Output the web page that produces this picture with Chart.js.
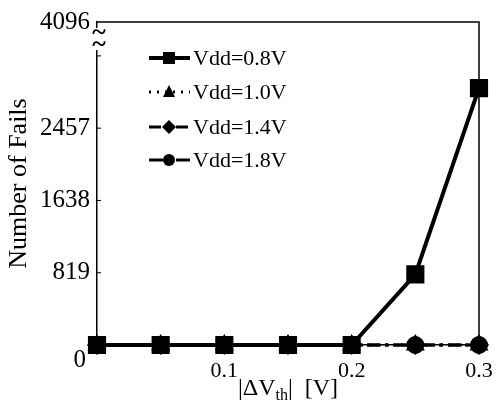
<!DOCTYPE html>
<html>
<head>
<meta charset="utf-8">
<script src="https://cdn.jsdelivr.net/npm/chart.js@4/dist/chart.umd.min.js"></script>
<style>
  body { margin: 0; background: #fff; }
  canvas { display: block; }
</style>
</head>
<body>
<canvas id="fails" width="497" height="407"></canvas>
<script>
// data
const dvth = [0, 0.05, 0.1, 0.15, 0.2, 0.25, 0.3];
const vdd08 = [0, 0, 0, 0, 0, 800, 2910];
const vdd10 = [0, 0, 0, 0, 0, 0, 0];
const vdd14 = [0, 0, 0, 0, 0, 0, 0];
const vdd18 = [0, 0, 0, 0, 0, 0, 0];
const seriesNames = ["Vdd=0.8V", "Vdd=1.0V", "Vdd=1.4V", "Vdd=1.8V"];

const xTicks = [0.1, 0.2, 0.3];
const xTickLabels = ["0.1", "0.2", "0.3"];
// axis is broken above 3276, top label reads 4096
const yTicks = [0, 819, 1638, 2457, 3276, 3660];
const yTickLabels = ["", "819", "1638", "2457", "", "4096"];
const yMax = 3660;

const serif = '"Liberation Serif", "Times New Roman", serif';

function pts(ys) {
  return ys.map((y, i) => ({ x: dvth[i], y: y }));
}

// little marker drawer for the legend
function marker(ctx, style, x, y) {
  ctx.beginPath();
  if (style === "rect") {
    ctx.rect(x - 6, y - 6, 12, 12);
  } else if (style === "triangle") {
    ctx.moveTo(x, y - 7);
    ctx.lineTo(x + 6, y + 5);
    ctx.lineTo(x - 6, y + 5);
    ctx.closePath();
  } else if (style === "rectRot") {
    ctx.moveTo(x, y - 7);
    ctx.lineTo(x + 7, y);
    ctx.lineTo(x, y + 7);
    ctx.lineTo(x - 7, y);
    ctx.closePath();
  } else {
    ctx.arc(x, y, 6, 0, Math.PI * 2);
  }
  ctx.fill();
}

const extras = {
  id: "extras",
  afterDraw(chart) {
    const ctx = chart.ctx;
    const a = chart.chartArea;
    const ys = chart.scales.y;
    ctx.save();
    ctx.strokeStyle = "#000";
    ctx.fillStyle = "#000";

    // top and right frame
    ctx.lineWidth = 1.5;
    ctx.beginPath();
    ctx.moveTo(a.left, a.top);
    ctx.lineTo(a.right, a.top);
    ctx.lineTo(a.right, a.bottom);
    ctx.stroke();

    // inward y ticks
    ctx.lineWidth = 1;
    yTicks.forEach((v) => {
      if (v === 0 || v === yMax) return;
      const py = ys.getPixelForValue(v);
      ctx.beginPath();
      ctx.moveTo(a.left, py);
      ctx.lineTo(a.left + 4, py);
      ctx.stroke();
    });

    // lone "0" at the corner
    ctx.font = "25px " + serif;
    ctx.textAlign = "right";
    ctx.textBaseline = "middle";
    ctx.fillText("0", a.left - 11, a.bottom + 15);

    // axis break
    ctx.fillStyle = "#fff";
    ctx.fillRect(a.left - 2, a.top + 6, 5, 22);
    ctx.fillStyle = "#000";
    ctx.font = "bold 26px " + serif;
    ctx.textAlign = "center";
    ctx.fillText("~", a.left + 2, a.top + 11);
    ctx.fillText("~", a.left + 2, a.top + 23);

    // x title with subscript
    const cx = (a.left + a.right) / 2;
    const base = 395;
    ctx.textBaseline = "alphabetic";
    ctx.textAlign = "left";
    const big = "24px " + serif;
    const small = "16px " + serif;
    const p1 = "|\u0394V", p2 = "th", p3 = "|  [V]";
    ctx.font = big;
    const w1 = ctx.measureText(p1).width, w3 = ctx.measureText(p3).width;
    ctx.font = small;
    const w2 = ctx.measureText(p2).width;
    let x0 = cx - (w1 + w2 + w3) / 2;
    ctx.font = big;
    ctx.fillText(p1, x0, base);
    ctx.font = small;
    ctx.fillText(p2, x0 + w1, base + 5);
    ctx.font = big;
    ctx.fillText(p3, x0 + w1 + w2, base);

    // legend
    const rowY = [58, 92, 127, 160];
    chart.data.datasets.forEach((ds, i) => {
      const y = rowY[i];
      ctx.strokeStyle = "#000";
      ctx.lineWidth = ds.borderWidth;
      ctx.setLineDash(ds.borderDash || []);
      ctx.beginPath();
      ctx.moveTo(149, y);
      ctx.lineTo(190, y);
      ctx.stroke();
      ctx.setLineDash([]);
      marker(ctx, ds.pointStyle, 169, y);
      ctx.font = "22px " + serif;
      ctx.textBaseline = "middle";
      ctx.fillText(seriesNames[i], 193, y + 1);
    });
    ctx.restore();
  }
};

new Chart(document.getElementById("fails"), {
  type: "line",
  data: {
    datasets: [
      {
        label: seriesNames[0], data: pts(vdd08),
        borderColor: "#000", backgroundColor: "#000", borderWidth: 4,
        pointStyle: "rect", pointRadius: 10, clip: false
      },
      {
        label: seriesNames[1], data: pts(vdd10),
        borderColor: "#000", backgroundColor: "#000", borderWidth: 3,
        borderDash: [2, 6], pointStyle: "triangle", pointRadius: 8, clip: false
      },
      {
        label: seriesNames[2], data: pts(vdd14),
        borderColor: "#000", backgroundColor: "#000", borderWidth: 3,
        borderDash: [12, 6, 3, 6], pointStyle: "rectRot", pointRadius: 8, clip: false
      },
      {
        label: seriesNames[3], data: pts(vdd18),
        borderColor: "#000", backgroundColor: "#000", borderWidth: 3,
        borderDash: [14, 5, 3, 5], pointStyle: "circle", pointRadius: 7.5, clip: false
      }
    ]
  },
  options: {
    responsive: false,
    animation: false,
    layout: { padding: { left: 0, right: 18, top: 22, bottom: 0 } },
    plugins: { legend: { display: false }, tooltip: { enabled: false } },
    scales: {
      x: {
        type: "linear", min: 0, max: 0.3,
        afterBuildTicks: (s) => { s.ticks = xTicks.map((v) => ({ value: v })); },
        afterFit: (s) => {
          s.height = 407 - 345;
          s.paddingLeft = 0;
          s.paddingRight = 0;
        },
        ticks: {
          color: "#000", padding: 13, maxRotation: 0,
          font: { family: serif, size: 22 },
          callback: (v) => xTickLabels[xTicks.indexOf(Math.round(v * 100) / 100)]
        },
        grid: { display: false, drawTicks: false },
        border: { display: true, color: "#000", width: 1.5 }
      },
      y: {
        type: "linear", min: 0, max: yMax,
        afterBuildTicks: (s) => { s.ticks = yTicks.map((v) => ({ value: v })); },
        afterFit: (s) => {
          s.width = 97;
          s.paddingTop = 0;
          s.paddingBottom = 0;
        },
        ticks: {
          color: "#000", padding: 7,
          font: { family: serif, size: 25 },
          callback: (v) => yTickLabels[yTicks.indexOf(v)]
        },
        title: {
          display: true, text: "Number of Fails", color: "#000",
          font: { family: serif, size: 26 }, padding: { top: 4, bottom: 0 }
        },
        grid: { display: false, drawTicks: false },
        border: { display: true, color: "#000", width: 1.5 }
      }
    }
  },
  plugins: [extras]
});
</script>
</body>
</html>
